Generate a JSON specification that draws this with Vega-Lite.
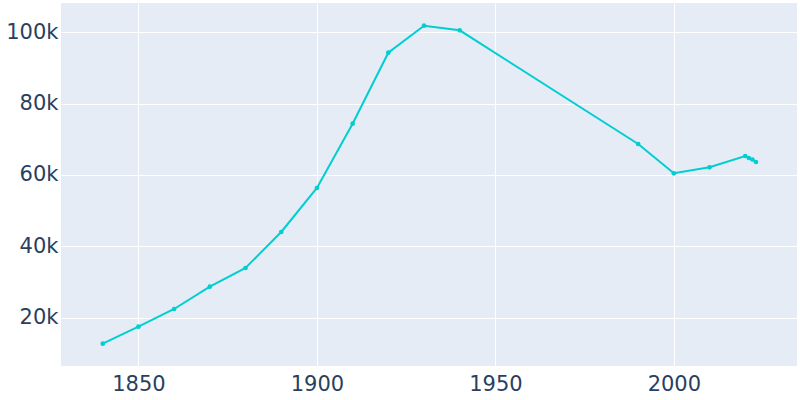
{
  "$schema": "https://vega.github.io/schema/vega-lite/v6.json",
  "autosize": "none",
  "width": 736,
  "height": 363,
  "padding": {"left": 61, "top": 3, "right": 3, "bottom": 34},
  "background": "white",
  "config": {
    "view": {"fill": "#E5ECF6", "stroke": null},
    "font": "DejaVu Sans",
    "axis": {
      "grid": true, "gridColor": "white", "gridWidth": 1, "gridOpacity": 1,
      "domain": false, "ticks": false,
      "labelFont": "DejaVu Sans", "labelFontSize": 21, "labelColor": "#2a3f5f",
      "title": null
    }
  },
  "data": {"values": [
    {"year": 1840, "population": 12712},
    {"year": 1850, "population": 17477},
    {"year": 1860, "population": 22439},
    {"year": 1870, "population": 28690},
    {"year": 1880, "population": 33931},
    {"year": 1890, "population": 44022},
    {"year": 1900, "population": 56356},
    {"year": 1910, "population": 74380},
    {"year": 1920, "population": 94282},
    {"year": 1930, "population": 101850},
    {"year": 1940, "population": 100561},
    {"year": 1990, "population": 68689},
    {"year": 2000, "population": 60476},
    {"year": 2010, "population": 62158},
    {"year": 2020, "population": 65326},
    {"year": 2021, "population": 64765},
    {"year": 2022, "population": 64345},
    {"year": 2023, "population": 63644}
  ]},
  "mark": {"type": "line", "color": "#00CED1", "strokeWidth": 2, "point": {"filled": true, "size": 22, "color": "#00CED1"}},
  "encoding": {
    "x": {"field": "year", "type": "quantitative",
      "scale": {"domain": [1828.3, 2034.5], "nice": false, "zero": false},
      "axis": {"values": [1850, 1900, 1950, 2000], "format": "d", "labelPadding": 7}},
    "y": {"field": "population", "type": "quantitative",
      "scale": {"domain": [6461, 108213], "nice": false, "zero": false},
      "axis": {"values": [20000, 40000, 60000, 80000, 100000], "format": "~s", "labelPadding": 3}}
  }
}
